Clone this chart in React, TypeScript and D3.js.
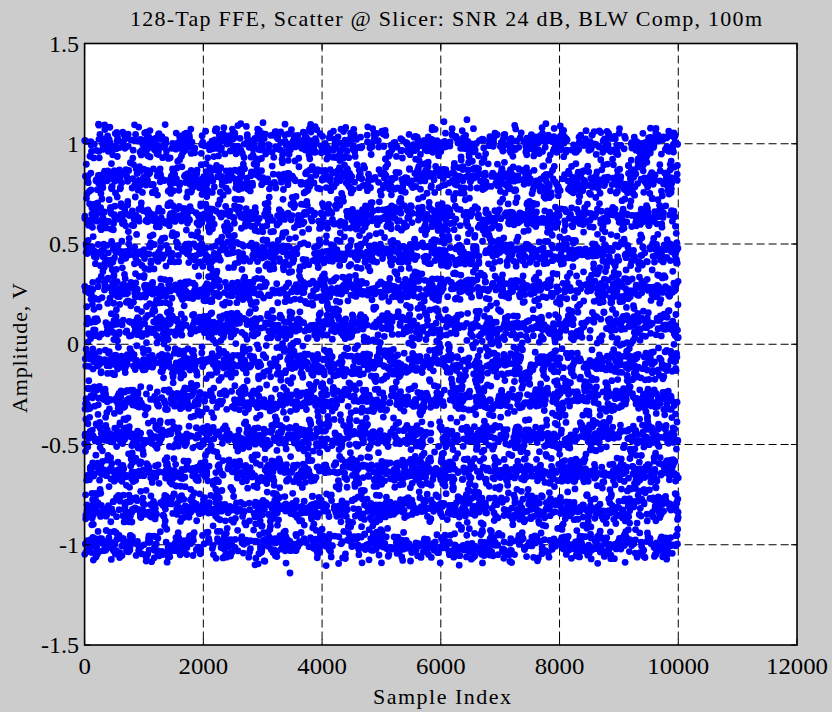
import React from "react";
import * as d3 from "d3";

// Slicer decision levels (V), 12-level constellation
const levels = [-1.0, -0.818, -0.636, -0.455, -0.273, -0.091, 0.091, 0.273, 0.455, 0.636, 0.818, 1.0];
const sampleCount = 10000;
const noiseSigma = 0.042; // residual noise at the slicer, V
const noiseClip = 2.5; // in sigmas

// Isolated outlying samples [index, amplitude]
const outlierIdx = [2630, 3005, 6053, 6440, 7770, 2870, 3025, 3460, 5990];
const outlierAmp = [1.1, 1.105, 1.11, 1.12, 1.1, -1.1, -1.08, -1.141, -1.09];

const xTicks = [0, 2000, 4000, 6000, 8000, 10000, 12000];
const yTicks = [-1.5, -1, -0.5, 0, 0.5, 1, 1.5];
const yTickText = ["-1.5", "-1", "-0.5", "0", "0.5", "1", "1.5"];

const titleText = "128-Tap FFE, Scatter @ Slicer: SNR 24 dB, BLW Comp, 100m";
const xLabelText = "Sample Index";
const yLabelText = "Amplitude, V";

const W = 832;
const H = 712;
const FONT = "Liberation Serif";

// Fixed-seed generator so the symbol stream and noise are identical on every render
function mulberry32(seed: number) {
  let a = seed >>> 0;
  return () => {
    a = (a + 0x6d2b79f5) >>> 0;
    let t = a;
    t = Math.imul(t ^ (t >>> 15), t | 1);
    t ^= t + Math.imul(t ^ (t >>> 7), t | 61);
    return ((t ^ (t >>> 14)) >>> 0) / 4294967296;
  };
}

function buildSamples() {
  const rnd = mulberry32(24100);
  const pts: [number, number][] = [];
  for (let i = 1; i <= sampleCount; i++) {
    const lvl = levels[Math.floor(rnd() * levels.length)];
    let n = 0;
    do {
      const u1 = Math.max(rnd(), 1e-12);
      const u2 = rnd();
      n = Math.sqrt(-2 * Math.log(u1)) * Math.cos(2 * Math.PI * u2);
    } while (Math.abs(n) > noiseClip);
    pts.push([i, lvl + n * noiseSigma]);
  }
  outlierIdx.forEach((k, j) => pts.push([k, outlierAmp[j]]));
  return pts;
}

const samples = buildSamples();

export default function App() {
  const left = 84.6;
  const right = 797;
  const top = 43.5;
  const bottom = 645;
  const x = d3.scaleLinear().domain([0, 12000]).range([left, right]);
  const y = d3.scaleLinear().domain([-1.5, 1.5]).range([bottom, top]);
  const tickLen = 6;

  return (
    <div style={{ position: "absolute", left: 0, top: 0 }}>
      <svg width={W} height={H} fontFamily={FONT} style={{ display: "block" }}>
        <rect x={0} y={0} width={W} height={H} fill="#cccccc" />
        <rect x={left} y={top} width={right - left} height={bottom - top} fill="#ffffff" />

        {/* grid */}
        <g stroke="#000" strokeWidth={1} strokeDasharray="8,4" fill="none">
          {xTicks.slice(1, -1).map((t) => (
            <line key={"gx" + t} x1={x(t)} x2={x(t)} y1={top} y2={bottom} />
          ))}
          {yTicks.slice(1, -1).map((t) => (
            <line key={"gy" + t} x1={left} x2={right} y1={y(t)} y2={y(t)} />
          ))}
        </g>

        {/* samples */}
        <g fill="#0000ff">
          {samples.map(([i, v], k) => (
            <circle key={k} cx={x(i)} cy={y(v)} r={3.4} />
          ))}
        </g>

        {/* ticks on all four sides */}
        <g stroke="#000" strokeWidth={1}>
          {xTicks.map((t) => (
            <g key={"tx" + t}>
              <line x1={x(t)} x2={x(t)} y1={bottom} y2={bottom - tickLen} />
              <line x1={x(t)} x2={x(t)} y1={top} y2={top + tickLen} />
            </g>
          ))}
          {yTicks.map((t) => (
            <g key={"ty" + t}>
              <line x1={left} x2={left + tickLen} y1={y(t)} y2={y(t)} />
              <line x1={right} x2={right - tickLen} y1={y(t)} y2={y(t)} />
            </g>
          ))}
        </g>

        {/* box */}
        <rect x={left} y={top} width={right - left} height={bottom - top} fill="none" stroke="#000" strokeWidth={1.6} />

        {/* tick labels */}
        <g fontSize={24} fill="#000">
          {xTicks.map((t) => {
            const s = String(t);
            return (
              <text key={"lx" + t} x={x(t)} y={674} textAnchor="middle" textLength={s.length * 12.4} lengthAdjust="spacingAndGlyphs">
                {s}
              </text>
            );
          })}
          {yTicks.map((t, j) => (
            <text key={"ly" + t} x={79} y={y(t) + 8} textAnchor="end">
              {yTickText[j]}
            </text>
          ))}
        </g>

        {/* title and axis labels */}
        <text x={446} y={26} fontSize={22} textAnchor="middle" textLength={632} lengthAdjust="spacing">
          {titleText}
        </text>
        <text x={442} y={704} fontSize={22} textAnchor="middle" textLength={138} lengthAdjust="spacing">
          {xLabelText}
        </text>
        <text
          transform={`translate(27,348) rotate(-90)`}
          fontSize={22}
          textAnchor="middle"
          textLength={130}
          lengthAdjust="spacing"
        >
          {yLabelText}
        </text>
      </svg>
    </div>
  );
}
